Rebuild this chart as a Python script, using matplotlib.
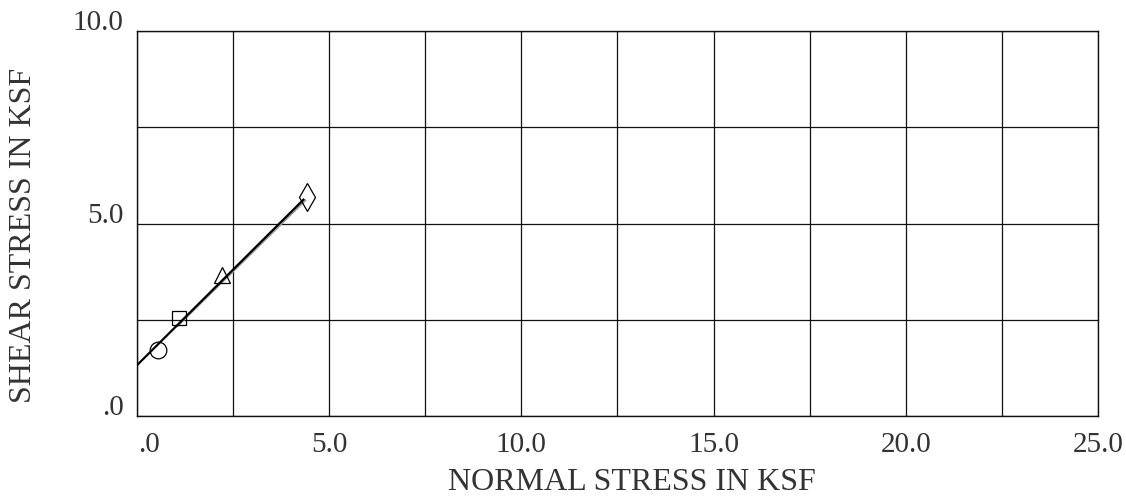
import matplotlib.pyplot as plt
import matplotlib.transforms as mtransforms

plt.rcParams['font.family'] = ['Liberation Serif', 'DejaVu Serif']

# data points
normal_stress = [0.55, 1.09, 2.21, 4.42]
shear_stress = [1.71, 2.55, 3.66, 5.69]
markers = ['o', 's', '^', 'd']
marker_sizes = [12, 10, 12, 14]

# failure envelopes (black = fit, gray = second trace)
fit_x = [0.0, 4.33]
fit_y = [1.32, 5.62]
trace_x = [1.05, 4.38]
trace_y = [2.33, 5.60]

x_ticks = [0, 5, 10, 15, 20, 25]
x_labels = ['.0', '5.0', '10.0', '15.0', '20.0', '25.0']
y_ticks = [0, 5, 10]
y_labels = ['.0', '5.0', '10.0']

fig = plt.figure(figsize=(11.26, 5.0), dpi=100)
ax = fig.add_axes([0.1217, 0.168, 0.8533, 0.770])

ax.set_xlim(0, 25)
ax.set_ylim(0, 10)
ax.set_xticks([2.5 * i for i in range(11)])
ax.set_yticks([2.5 * i for i in range(5)])
ax.grid(True, color='#111111', linewidth=0.9)
ax.tick_params(length=0, labelbottom=False, labelleft=False)
for s in ax.spines.values():
    s.set_color('#111111')
    s.set_linewidth(1.0)

# tick labels every 5 units
for xt, lab in zip(x_ticks, x_labels):
    off = mtransforms.ScaledTranslation(0.12 if lab == '.0' else 0.0, 0, fig.dpi_scale_trans)
    ax.text(xt, -0.75, lab, ha='center', va='center', fontsize=21,
            color='#333333', transform=ax.transData + off)
for yt, lab in zip(y_ticks, y_labels):
    ax.text(-0.35, yt + 0.2, lab, ha='right', va='center', fontsize=21,
            color='#333333')

ax.plot(trace_x, trace_y, color='#9a9a9a', linewidth=1.3, zorder=3)
ax.plot(fit_x, fit_y, color='black', linewidth=1.6, zorder=4)
for x, y, m, ms in zip(normal_stress, shear_stress, markers, marker_sizes):
    ax.plot(x, y, marker=m, markersize=ms, markerfacecolor='none',
            markeredgecolor='black', markeredgewidth=0.9, linestyle='none',
            zorder=5, clip_on=False)

fig.text(0.561, 0.034, 'NORMAL STRESS IN KSF', ha='center', va='center',
         fontsize=23, color='#333333')
fig.text(0.021, 0.53, 'SHEAR STRESS IN KSF', ha='center', va='center',
         rotation=90, fontsize=23, color='#333333')

fig.savefig('out.png', dpi=100)
